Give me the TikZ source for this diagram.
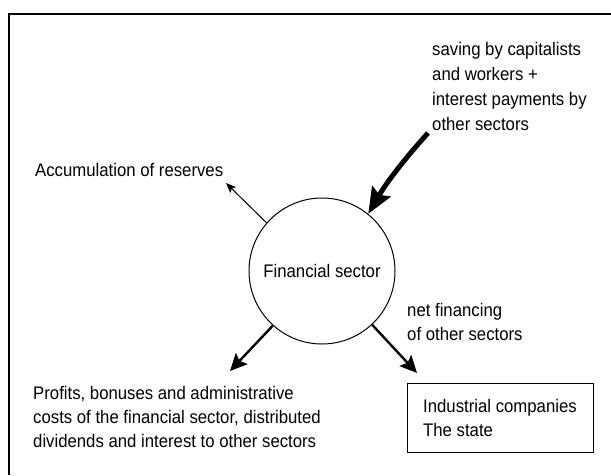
\documentclass[tikz,border=0pt]{standalone}
\usepackage{fontspec}
\setmainfont{Liberation Sans}[FakeStretch=0.92]
\usetikzlibrary{arrows.meta}

\tikzset{
  label text/.style={inner sep=0pt, align=left, anchor=base west},
  sector/.style={circle, draw, line width=1pt, minimum size=146pt, inner sep=0pt},
  target box/.style={draw, line width=1.3pt, inner sep=0pt},
  thin flow/.style={line width=1pt, -{Stealth[length=10pt, width=8pt, inset=2pt]}},
  mid flow/.style={line width=2.4pt, -{Stealth[length=17pt, width=16pt, inset=3pt]}},
  big flow/.style={line width=5pt, -{Stealth[length=26pt, width=21pt, inset=4pt]}},
  frame line/.style={line width=2pt}
}

\begin{document}
\begin{tikzpicture}[x=1pt, y=-1pt, font=\fontsize{18.2}{24}\selectfont]
  \useasboundingbox (0,0) rectangle (611,475);

  % outer frame, open towards right and bottom
  \draw[frame line] (9,475) -- (9,14) -- (611,14);

  % central sector
  \node[sector] (fin) at (322,271) {};
  \node[inner sep=0pt, anchor=base] (finlabel) at (322,277) {Financial sector};

  % incoming savings (multi-line labels are placed by their last baseline)
  \node[label text, font=\fontsize{18.2}{24.8}\selectfont] (saving) at (432,130)
    {saving by capitalists\\and workers +\\interest payments by\\other sectors};
  \coordinate (savtail) at (428,133);
  \draw[big flow] (savtail) .. controls (408,155) and (388,180) .. (fin.51);

  % reserves
  \node[label text] (reserves) at (35,176) {Accumulation of reserves};
  \coordinate (restip) at (226,183);
  \draw[thin flow] (fin.139) -- (restip);

  % profits and distributions
  \node[label text] (profits) at (33,447)
    {Profits, bonuses and administrative\\costs of the financial sector, distributed\\dividends and interest to other sectors};
  \coordinate (proftip) at (230,371);
  \draw[mid flow] (fin.228) -- (proftip);

  % net financing
  \node[label text] (netfin) at (407,340) {net financing\\of other sectors};
  \coordinate (nettip) at (417,373);
  \draw[mid flow] (fin.313) -- (nettip);

  % receiving sectors
  \node[target box, minimum width=186pt, minimum height=69pt, anchor=north west] (others) at (407,383) {};
  \node[label text] (otherslabel) at (423,436) {Industrial companies\\The state};
\end{tikzpicture}
\end{document}
